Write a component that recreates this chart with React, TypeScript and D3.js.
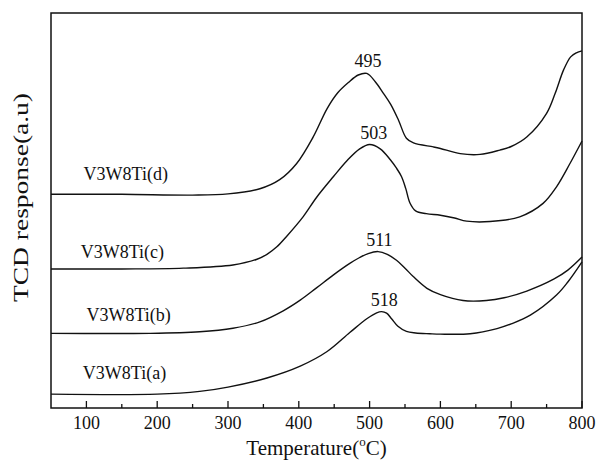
import * as d3 from "d3";

// temperature (°C) / TCD response (a.u.)
const curveA = [[50,3.5],[200,3.5],[260,4.2],[300,5.3],[355,7.6],[402,10.6],[440,14.3],[472,19.1],[496,22.6],[510,24.1],[517,24.4],[524,24.0],[531,22.6],[540,20.7],[552,19.4],[565,19.0],[585,18.8],[600,18.7],[642,18.8],[680,20.1],[700,21.3],[727,23.5],[764,28.6],[780,31.9],[800,37.0]];
const curveB = [[50,18.9],[190,18.9],[260,19.3],[307,20.2],[345,21.8],[378,24.6],[402,27.3],[425,30.4],[449,33.7],[472,36.6],[486,38.1],[498,39.1],[512,39.6],[525,38.9],[538,37.4],[550,35.4],[562,33.2],[581,30.3],[600,28.7],[632,27.2],[665,27.2],[690,27.9],[722,29.6],[760,32.6],[780,34.9],[800,38.2]];
const curveC = [[50,35.2],[150,35.2],[237,35.4],[307,36.2],[340,37.6],[355,38.9],[369,40.8],[383,43.5],[406,48.4],[425,53.3],[449,58.6],[468,62.6],[486,65.6],[500,66.7],[515,65.6],[529,62.9],[538,60.7],[545,58.6],[551,55.6],[557,51.9],[565,49.9],[580,49.2],[600,48.8],[620,48.1],[637,47.3],[670,47.2],[712,48.4],[745,51.8],[764,56.0],[783,61.9],[800,67.6]];
const curveD = [[50,54.1],[150,54.1],[250,53.9],[300,54.2],[345,55.5],[373,57.8],[397,61.9],[420,68.5],[440,75.8],[455,79.8],[470,82.4],[484,84.3],[496,84.7],[508,82.6],[519,79.8],[530,76.8],[541,72.8],[552,68.3],[562,67.1],[590,66.1],[600,65.7],[628,64.4],[656,64.2],[684,65.3],[700,66.2],[722,68.6],[750,74.6],[762,79.6],[774,85.6],[784,88.9],[792,89.9],[800,90.4]];

const seriesNames = ["V3W8Ti(a)", "V3W8Ti(b)", "V3W8Ti(c)", "V3W8Ti(d)"];
const peakTemps = [518, 511, 503, 495];
const peakValues = [24.4, 39.6, 66.7, 84.7];
const labelTemps = [95, 100, 92, 96];
const labelValues = [7.4, 22.0, 38.0, 57.7];
const xTicks = [100, 200, 300, 400, 500, 600, 700, 800];
const xMinorTicks = [150, 250, 350, 450, 550, 650, 750];

const W = 596, H = 463;
const m = { left: 51, right: 582, top: 13, bottom: 408 };
const font = '"Liberation Serif", "Times New Roman", Times, serif';

export default function App() {
  const x = d3.scaleLinear().domain([50, 800]).range([m.left, m.right]);
  const y = d3.scaleLinear().domain([0, 100]).range([m.bottom, m.top]);
  const line = d3.line<number[]>()
    .x(d => x(d[0]))
    .y(d => y(d[1]))
    .curve(d3.curveCatmullRom.alpha(0.5));

  const curves = [curveA, curveB, curveC, curveD];

  return (
    <svg width={W} height={H} style={{ position: "absolute", left: 0, top: 0, background: "#fff", fontFamily: font }}>
      {curves.map((c, i) => (
        <path key={i} d={line(c) || ""} fill="none" stroke="#111" strokeWidth={1.4} strokeLinejoin="round" />
      ))}
      {seriesNames.map((n, i) => (
        <text key={n} x={x(labelTemps[i])} y={y(labelValues[i])} fontSize={18} fill="#111">{n}</text>
      ))}
      {peakTemps.map((t, i) => (
        <text key={t} x={x(t) + 2} y={y(peakValues[i]) - 6} fontSize={18} textAnchor="middle" fill="#111">{t}</text>
      ))}
      <rect x={m.left} y={m.top} width={m.right - m.left} height={m.bottom - m.top} fill="none" stroke="#111" strokeWidth={1.5} />
      {xTicks.map(t => (
        <g key={t}>
          <line x1={x(t)} x2={x(t)} y1={m.bottom} y2={m.bottom - 7} stroke="#111" strokeWidth={1.3} />
          <text x={x(t)} y={429} fontSize={18} textAnchor="middle" fill="#111">{t}</text>
        </g>
      ))}
      {xMinorTicks.map(t => (
        <line key={t} x1={x(t)} x2={x(t)} y1={m.bottom} y2={m.bottom - 4} stroke="#111" strokeWidth={1.3} />
      ))}
      <text x={(m.left + m.right) / 2} y={455} fontSize={21} textAnchor="middle" fill="#111">
        Temperature(<tspan fontSize={13} dy={-9}>o</tspan><tspan dy={9}>C)</tspan>
      </text>
      <text transform={`translate(28,197.5) rotate(-90)`} fontSize={22} textAnchor="middle" fill="#111"
        textLength={209} lengthAdjust="spacingAndGlyphs">TCD response(a.u)</text>
    </svg>
  );
}
